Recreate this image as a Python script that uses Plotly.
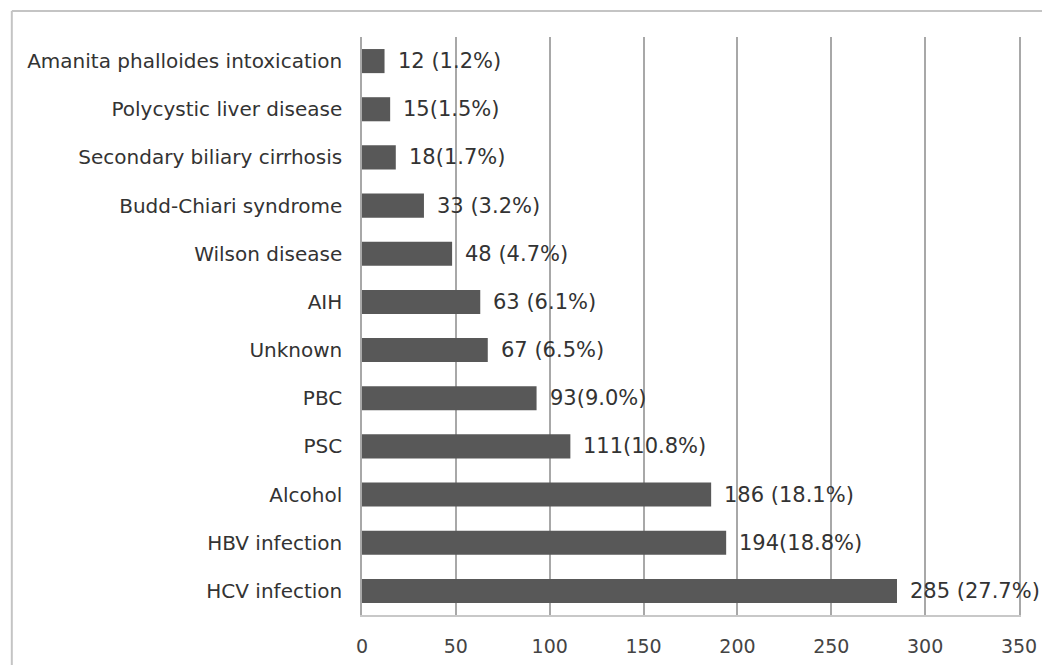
import plotly.graph_objects as go

categories = ["Amanita phalloides intoxication", "Polycystic liver disease",
              "Secondary biliary cirrhosis", "Budd-Chiari syndrome", "Wilson disease",
              "AIH", "Unknown", "PBC", "PSC", "Alcohol", "HBV infection", "HCV infection"]
counts = [12, 15, 18, 33, 48, 63, 67, 93, 111, 186, 194, 285]
labels = ["12 (1.2%)", "15(1.5%)", "18(1.7%)", "33 (3.2%)", "48 (4.7%)", "63 (6.1%)",
          "67 (6.5%)", "93(9.0%)", "111(10.8%)", "186 (18.1%)", "194(18.8%)", "285 (27.7%)"]
x_ticks = [0, 50, 100, 150, 200, 250, 300, 350]

fig = go.Figure()
fig.add_trace(go.Bar(
    y=categories, x=counts, orientation="h",
    marker=dict(color="#585858", line=dict(width=0)),
    width=0.5, hoverinfo="skip",
))

for c, v, t in zip(categories, counts, labels):
    fig.add_annotation(x=v, y=c, text=t, showarrow=False, xanchor="left",
                       xshift=11, font=dict(family="DejaVu Sans", size=21, color="#333333"))

# page has an 8px body margin, so margins are shifted accordingly
fig.update_layout(
    width=1050, height=665,
    margin=dict(l=354, r=39, t=29, b=58),
    paper_bgcolor="white", plot_bgcolor="white",
    showlegend=False,
    xaxis=dict(range=[0, 350], tickvals=x_ticks, showgrid=True, gridcolor="#a8a8a8",
               gridwidth=1.5, zeroline=False, showline=True, linecolor="#c8c8c8",
               linewidth=1.5, ticks="", ticklabelstandoff=13,
               tickfont=dict(family="DejaVu Sans", size=19, color="#444444")),
    yaxis=dict(categoryorder="array", categoryarray=categories, autorange="reversed",
               showgrid=False, zeroline=False, showline=True, mirror=True,
               linecolor="#a8a8a8", linewidth=1.5, ticks="",
               ticklabelstandoff=14,
               tickfont=dict(family="DejaVu Sans", size=20, color="#333333")),
    shapes=[dict(type="line", xref="paper", yref="paper", x0=-0.533, x1=1.1, y0=1.045, y1=1.045,
                 line=dict(color="#c4c4c4", width=2)),
            dict(type="line", xref="paper", yref="paper", x0=-0.533, x1=-0.533, y0=1.045, y1=-0.2,
                 line=dict(color="#c4c4c4", width=2))],
)

fig.write_html("out.html")
